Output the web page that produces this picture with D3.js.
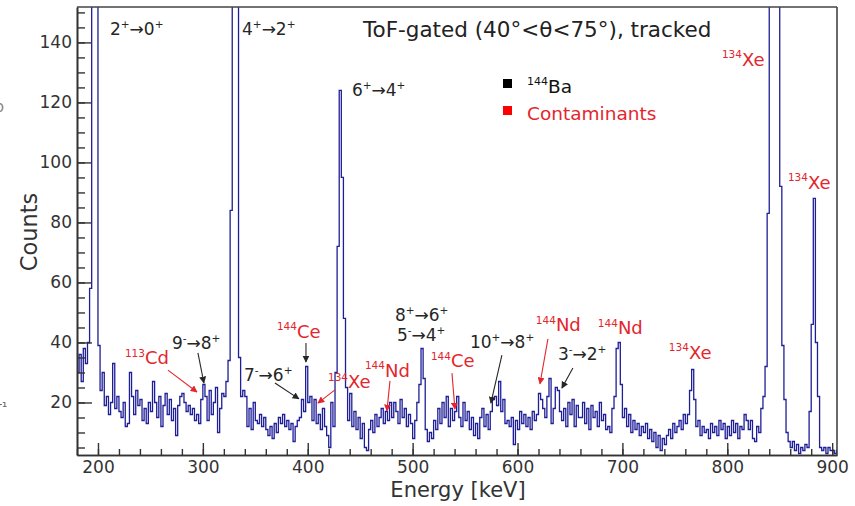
<!DOCTYPE html>
<html>
<head>
<meta charset="utf-8">
<script src="https://cdn.jsdelivr.net/npm/d3@7"></script>
<style>
  html, body { margin: 0; padding: 0; background: #fff; }
  svg { display: block; font-family: "DejaVu Sans", Verdana, sans-serif; }
</style>
</head>
<body>
<svg id="chart" width="855" height="506"></svg>
<script>
// ---------------- data ----------------
const binStart = 180;      // keV, lower edge of first bin
const binWidth = 2;        // keV
// counts per 2-keV bin, rows of 20 keV
const counts = [
  30,36,27,38,33,40,58,320,950,900,      // 180
  39,24,30,19,22,16,20,33,18,22,         // 200
  17,15,20,12,13,30,22,16,24,19,         // 220
  21,14,18,13,20,17,27,20,15,22,         // 240
  12,19,23,16,21,14,18,9,19,22,          // 260
  23,20,17,19,16,18,14,16,13,21,         // 280
  26,22,14,24,16,20,25,10,18,23,         // 300
  22,27,34,84,450,720,260,35,22,24,      // 320
  22,12,18,11,20,14,13,16,12,15,         // 340
  11,9,12,8,13,10,15,13,16,12,           // 360
  14,11,13,7,12,14,15,21,17,32,          // 380
  20,22,14,21,13,16,11,18,12,9,          // 400
  5,20,12,30,72,124,95,48,25,14,         // 420
  23,12,17,11,15,8,13,5,4,11,            // 440
  14,10,16,12,15,18,13,17,14,20,         // 460
  15,20,17,13,21,15,18,12,16,13,         // 480
  8,14,20,26,38,28,11,7,10,8,            // 500
  14,11,18,13,20,15,22,12,18,14,         // 520
  17,22,15,12,20,14,17,11,15,9,          // 540
  13,8,15,18,12,16,11,17,21,22,          // 560
  19,27,17,21,13,14,12,15,6,14,          // 580
  11,17,13,16,12,15,11,17,14,16,         // 600
  23,21,18,15,22,28,13,18,25,24,         // 620
  17,14,18,12,20,16,21,12,19,15,         // 640
  15,20,13,18,11,19,15,17,12,20,         // 660
  14,16,11,12,10,18,22,38,40,26,         // 680
  15,18,12,16,10,14,11,13,9,12,          // 700
  10,13,8,11,7,10,5,9,4,8,               // 720
  6,9,11,8,13,10,12,14,11,16,            // 740
  13,16,24,31,21,12,14,9,12,10,          // 760
  11,8,13,10,12,9,14,11,13,8,            // 780
  12,9,14,10,13,8,12,11,16,14,           // 800
  11,14,8,7,12,10,18,22,32,83,           // 820
  260,540,580,320,170,92,39,21,10,7,     // 840
  5,7,4,6,3,5,4,6,5,17,                  // 860
  46,88,40,22,5,4,5,3,5,4,               // 880
  4,3,4                                  // 900
];

const xDomain = [180, 904.6];
const yDomain = [2.5, 151.8];
const xMajorTicks = [200, 300, 400, 500, 600, 700, 800, 900];
const xMinorTicks = d3.range(180, 901, 20);
const yMajorTicks = [20, 40, 60, 80, 100, 120, 140];
const yMinorTicks = d3.range(5, 151, 5);

const titleText = "ToF-gated (40°<θ<75°), tracked";
const xTitle = "Energy [keV]";
const yTitle = "Counts";
const legendItems = [
  { label: "^{144}Ba", kind: "ba" },
  { label: "Contaminants", kind: "cont" }
];

// peak annotations: text (ROOT-like ^{} superscripts), anchor in (keV, counts)
const peakLabels = [
  { t: "2^{+}→0^{+}",  e: 211.4, c: 142.5, kind: "ba" },
  { t: "4^{+}→2^{+}",  e: 337.3, c: 142.5, kind: "ba" },
  { t: "6^{+}→4^{+}",  e: 442.1, c: 122.2, kind: "ba" },
  { t: "^{134}Xe",     e: 794.9, c: 132.2, kind: "cont" },
  { t: "^{134}Xe",     e: 857.8, c: 91.2,  kind: "cont" },
  { t: "^{134}Xe",     e: 744.3, c: 34.5,  kind: "cont" },
  { t: "^{144}Nd",     e: 676.6, c: 42.8,  kind: "cont" },
  { t: "^{144}Nd",     e: 617.5, c: 43.8,  kind: "cont" },
  { t: "3^{-}→2^{+}",  e: 638.5, c: 34.2,  kind: "ba" },
  { t: "10^{+}→8^{+}", e: 554.6, c: 38.2,  kind: "ba" },
  { t: "^{144}Ce",     e: 517.4, c: 31.8,  kind: "cont" },
  { t: "8^{+}→6^{+}",  e: 483.1, c: 47.2,  kind: "ba" },
  { t: "5^{-}→4^{+}",  e: 485.0, c: 40.5,  kind: "ba" },
  { t: "^{144}Nd",     e: 454.5, c: 28.5,  kind: "cont" },
  { t: "^{134}Xe",     e: 419.3, c: 24.8,  kind: "cont" },
  { t: "^{144}Ce",     e: 370.6, c: 41.5,  kind: "cont" },
  { t: "7^{-}→6^{+}",  e: 339.2, c: 27.2,  kind: "ba" },
  { t: "9^{-}→8^{+}",  e: 270.5, c: 37.8,  kind: "ba" },
  { t: "^{113}Cd",     e: 225.7, c: 32.8,  kind: "cont" }
];

// arrows: from (e1,c1) to (e2,c2)
const arrows = [
  { e1: 266.7, c1: 30.8, e2: 294.4, c2: 23.5, kind: "cont" },
  { e1: 295.3, c1: 36.5, e2: 301.0, c2: 26.5, kind: "ba" },
  { e1: 368.7, c1: 26.5, e2: 391.6, c2: 21.2, kind: "ba" },
  { e1: 398.3, c1: 39.8, e2: 398.3, c2: 33.5, kind: "ba" },
  { e1: 425.9, c1: 24.2, e2: 409.7, c2: 19.8, kind: "cont" },
  { e1: 478.4, c1: 27.2, e2: 475.5, c2: 17.2, kind: "cont" },
  { e1: 537.5, c1: 29.8, e2: 540.3, c2: 17.8, kind: "cont" },
  { e1: 585.1, c1: 35.8, e2: 574.6, c2: 19.8, kind: "ba" },
  { e1: 629.0, c1: 41.2, e2: 621.4, c2: 26.2, kind: "cont" },
  { e1: 652.8, c1: 31.5, e2: 642.3, c2: 24.8, kind: "ba" }
];

// ---------------- layout / style ----------------
const plot = { left: 77, right: 837, top: 7, bottom: 455 };
const colors = { ba: "#262626", cont: "#e3262d", line: "#1e1e96", axis: "#333" };
const legendSquare = { ba: "#000000", cont: "#ff0000" };

const svg = d3.select("#chart");
const x = d3.scaleLinear().domain(xDomain).range([plot.left, plot.right]);
const y = d3.scaleLinear().domain(yDomain).range([plot.bottom, plot.top]);

const defs = svg.append("defs");
defs.append("clipPath").attr("id", "clip")
  .append("rect").attr("x", plot.left).attr("y", plot.top)
  .attr("width", plot.right - plot.left).attr("height", plot.bottom - plot.top);

["ba", "cont"].forEach(k => {
  defs.append("marker").attr("id", "arr-" + k)
    .attr("viewBox", "0 0 10 10").attr("refX", 9).attr("refY", 5)
    .attr("markerWidth", 7).attr("markerHeight", 7)
    .attr("markerUnits", "userSpaceOnUse").attr("orient", "auto")
    .append("path").attr("d", "M0,0 L10,5 L0,10 z").attr("fill", colors[k]);
});

// ---------------- histogram ----------------
const pts = counts.map((c, i) => [binStart + i * binWidth, c]);
pts.push([binStart + counts.length * binWidth, counts[counts.length - 1]]);
const line = d3.line()
  .x(d => x(d[0]))
  .y(d => y(Math.min(d[1], 2000)))
  .curve(d3.curveStepAfter);
svg.append("g").attr("clip-path", "url(#clip)")
  .append("path").datum(pts)
  .attr("d", line).attr("fill", "none")
  .attr("stroke", colors.line).attr("stroke-width", 1.3);

// ---------------- axes ----------------
function styleAxis(g) {
  g.selectAll("path.domain").attr("stroke", colors.axis).attr("stroke-width", 1.6);
  g.selectAll(".tick line").attr("stroke", colors.axis).attr("stroke-width", 1.4);
  g.selectAll("text").attr("fill", "#333").style("font-size", "17px")
    .style("font-family", "'DejaVu Sans', Verdana, sans-serif");
}
const gxMinor = svg.append("g").attr("transform", `translate(0,${plot.bottom})`)
  .call(d3.axisBottom(x).tickValues(xMinorTicks).tickSize(-6).tickSizeOuter(0).tickFormat(""));
styleAxis(gxMinor);
const gx = svg.append("g").attr("transform", `translate(0,${plot.bottom})`)
  .call(d3.axisBottom(x).tickValues(xMajorTicks).tickSize(-12).tickSizeOuter(0).tickPadding(6).tickFormat(d3.format("d")));
styleAxis(gx);

const gyMinor = svg.append("g").attr("transform", `translate(${plot.left},0)`)
  .call(d3.axisLeft(y).tickValues(yMinorTicks).tickSize(-8).tickSizeOuter(0).tickFormat(""));
styleAxis(gyMinor);
const gy = svg.append("g").attr("transform", `translate(${plot.left},0)`)
  .call(d3.axisLeft(y).tickValues(yMajorTicks).tickSize(-15).tickSizeOuter(0).tickPadding(5).tickFormat(d3.format("d")));
styleAxis(gy);

// frame top / right
svg.append("line").attr("x1", plot.left).attr("x2", plot.right).attr("y1", plot.top).attr("y2", plot.top)
  .attr("stroke", "#444").attr("stroke-width", 1.6);
svg.append("line").attr("x1", plot.right).attr("x2", plot.right).attr("y1", plot.top).attr("y2", plot.bottom)
  .attr("stroke", "#444").attr("stroke-width", 1.6);

// axis titles
svg.append("text").attr("x", (plot.left + plot.right) / 2 + 1).attr("y", 497)
  .attr("text-anchor", "middle").attr("fill", "#333").style("font-size", "21px").text(xTitle);
svg.append("text").attr("transform", "translate(37,232) rotate(-90)")
  .attr("text-anchor", "middle").attr("fill", "#333").style("font-size", "22.5px").text(yTitle);

// ---------------- rich text helper ----------------
function rich(g, str, px, py, size, supSize, fill) {
  const t = g.append("text").attr("x", px).attr("y", py).attr("fill", fill)
    .style("font-size", size + "px");
  const shift = size * 0.42;
  const re = /\^\{([^}]*)\}/g;
  let last = 0, m, raised = false;
  const parts = [];
  while ((m = re.exec(str)) !== null) {
    if (m.index > last) parts.push([str.slice(last, m.index), false]);
    parts.push([m[1], true]);
    last = re.lastIndex;
  }
  if (last < str.length) parts.push([str.slice(last), false]);
  parts.forEach(([txt, sup]) => {
    const ts = t.append("tspan").text(txt);
    if (sup) {
      ts.style("font-size", supSize + "px");
      if (!raised) { ts.attr("dy", -shift); raised = true; }
    } else if (raised) { ts.attr("dy", shift); raised = false; }
  });
  return t;
}

// title
svg.append("text").attr("x", 363).attr("y", 37).attr("fill", "#222")
  .style("font-size", "21.5px").text(titleText);

// legend
const lg = svg.append("g");
legendItems.forEach((it, i) => {
  const yy = 93 + i * 27;
  lg.append("rect").attr("x", 503).attr("y", yy - 14).attr("width", 9).attr("height", 9)
    .attr("fill", legendSquare[it.kind]);
  rich(lg, it.label, 527, yy, 18.5, 11, it.kind === "ba" ? "#111" : colors.cont);
});

// peak labels
const ann = svg.append("g");
peakLabels.forEach(d => {
  const isNuc = d.t.startsWith("^");
  rich(ann, d.t, x(d.e), y(d.c), isNuc ? 18 : 17, 10.5, colors[d.kind]);
});

// arrows
arrows.forEach(a => {
  ann.append("line")
    .attr("x1", x(a.e1)).attr("y1", y(a.c1)).attr("x2", x(a.e2)).attr("y2", y(a.c2))
    .attr("stroke", colors[a.kind]).attr("stroke-width", 1.1)
    .attr("marker-end", `url(#arr-${a.kind})`);
});

// cropped neighbour-panel remnants at the left edge
svg.append("text").attr("x", -4).attr("y", 412).attr("fill", "#666").style("font-size", "14px").text("r¹");
svg.append("text").attr("x", -6).attr("y", 112).attr("fill", "#888").style("font-size", "16px").text("b");
</script>
</body>
</html>
